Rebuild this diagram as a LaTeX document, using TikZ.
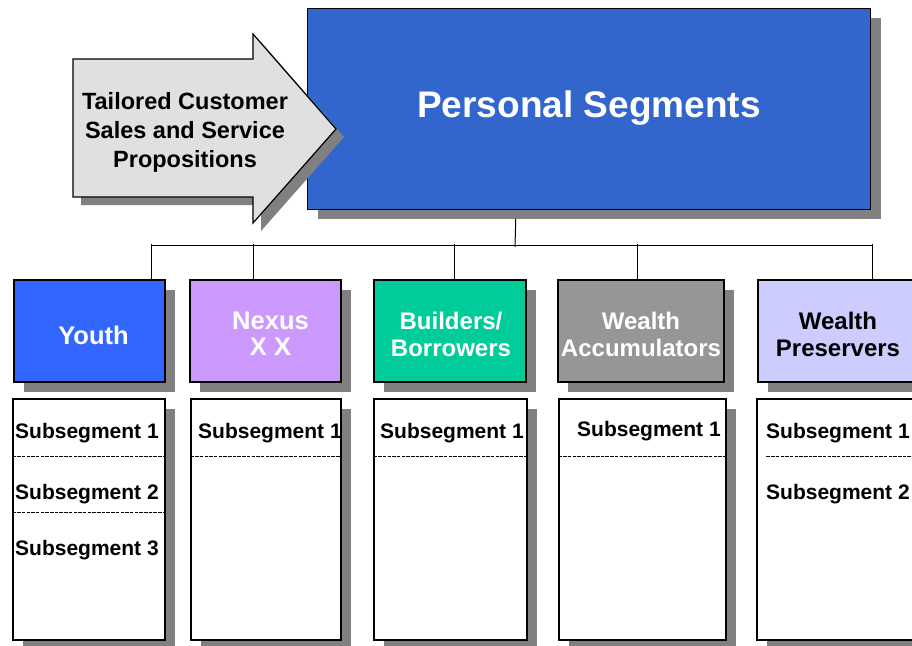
\documentclass[tikz,border=0pt]{standalone}
\usepackage{fontspec}
\setmainfont{Liberation Sans}
\usetikzlibrary{shadows}
\pgfdeclarelayer{background}
\pgfsetlayers{background,main}
\definecolor{psblue}{HTML}{3366CC}
\definecolor{youthblue}{HTML}{3366FF}
\definecolor{nexuslilac}{HTML}{CC99FF}
\definecolor{buildgreen}{HTML}{00CC99}
\definecolor{accgray}{HTML}{969696}
\definecolor{preslav}{HTML}{CCCCFF}
\definecolor{arrowgray}{HTML}{E0E0E0}
\definecolor{shadowgray}{HTML}{808080}
\tikzset{
  shad/.style={drop shadow={shadow xshift=10pt, shadow yshift=-10pt, fill=shadowgray, opacity=1}},
  segbox/.style={draw=black, line width=1.2pt, shad, inner sep=0pt, minimum height=102pt},
  segtxt/.style={inner sep=0pt, align=center, font=\bfseries\fontsize{24}{27}\selectfont, text=white},
  subbox/.style={draw=black, line width=1.2pt, fill=white, shad, inner sep=0pt, minimum height=241pt},
  subtxt/.style={anchor=base west, inner sep=0pt, font=\bfseries\fontsize{21}{25}\selectfont},
  conn/.style={draw=black, line width=1pt},
  divider/.style={draw=black, line width=1.4pt, dash pattern=on 3.5pt off 1.2pt},
}
\begin{document}
\begin{tikzpicture}[x=1pt,y=-1pt]
\useasboundingbox (0,0) rectangle (912,645);

% main box
\node[draw=black, line width=1pt, fill=psblue, shad, inner sep=0pt,
      minimum width=563pt, minimum height=201pt, text=white,
      font=\bfseries\fontsize{37}{44}\selectfont] (ps) at (589,108.5) {Personal Segments};

% block arrow
\fill[shadowgray] (81,67) -- (261,67) -- (261,42) -- (344,137) -- (261,231) -- (261,205) -- (81,205) -- cycle;
\draw[fill=arrowgray, line width=1.2pt, line join=miter] (73,59) -- (253,59) -- (253,34) -- (336,129) -- (253,223) -- (253,197) -- (73,197) -- cycle;
\node[align=center, font=\bfseries\fontsize{23.5}{29}\selectfont, inner sep=0pt] (arrowtxt) at (185,132)
  {Tailored Customer\\Sales and Service\\Propositions};

% segment boxes
\node[segbox, fill=youthblue, minimum width=151pt] (youth) at (89.5,331) {};
\node[segbox, fill=nexuslilac, minimum width=151pt] (nexus) at (265.5,331) {};
\node[segbox, fill=buildgreen, minimum width=152pt] (build) at (450,331) {};
\node[segbox, fill=accgray, minimum width=166pt] (acc) at (641,331) {};
\node[segbox, fill=preslav, minimum width=160pt] (pres) at (838,331) {};

\node[segtxt, font=\bfseries\fontsize{25.5}{27}\selectfont] (youthtxt) at (93.5,335) {Youth};
\node[segtxt, font=\bfseries\fontsize{25.5}{26}\selectfont] (nexustxt) at (270.5,334) {Nexus\\X X};
\node[segtxt] (buildtxt) at (451,334) {Builders/\\Borrowers};
\node[segtxt] (acctxt) at (641,334) {Wealth\\Accumulators};
\node[segtxt, text=black] (prestxt) at (838,334) {Wealth\\Preservers};

% subsegment boxes
\node[subbox, minimum width=152pt] (s1) at (89,519.5) {};
\node[subbox, minimum width=150pt] (s2) at (266,519.5) {};
\node[subbox, minimum width=153pt] (s3) at (450.5,519.5) {};
\node[subbox, minimum width=167pt] (s4) at (642.5,519.5) {};
\node[subbox, minimum width=161pt] (s5) at (837.5,519.5) {};

% dividers
\draw[divider] ([yshift=-58pt]s1.north west) -- ([yshift=-58pt]s1.north east);
\draw[divider] ([yshift=-114pt]s1.north west) -- ([yshift=-114pt]s1.north east);
\draw[divider] ([yshift=-58pt]s2.north west) -- ([yshift=-58pt]s2.north east);
\draw[divider] ([yshift=-58pt]s3.north west) -- ([yshift=-58pt]s3.north east);
\draw[divider] ([yshift=-58pt]s4.north west) -- ([yshift=-58pt]s4.north east);
\draw[divider] ([xshift=10pt,yshift=-58pt]s5.north west) -- ([yshift=-58pt]s5.north east);

% subsegment texts
\node[subtxt] (t11) at (15,438.5) {Subsegment 1};
\node[subtxt] (t12) at (15,499.5) {Subsegment 2};
\node[subtxt] (t13) at (15,555.5) {Subsegment 3};
\node[subtxt] (t21) at (198,438.5) {Subsegment 1};
\node[subtxt] (t31) at (380,438.5) {Subsegment 1};
\node[subtxt] (t41) at (577,436) {Subsegment 1};
\node[subtxt] (t51) at (766,438.5) {Subsegment 1};
\node[subtxt] (t52) at (766,499.5) {Subsegment 2};

% connectors
\coordinate (busL) at (152,245);
\coordinate (busR) at (873,245);
\coordinate (hub) at (515,247);
\begin{pgfonlayer}{background}
\fill[white] (0,0) rectangle (912,645);
\draw[conn] ([xshift=209pt]ps.south west) -- (hub);
\draw[conn] (busL) -- (busR);
\draw[conn] ([xshift=138pt]youth.north west) -- ++(0,-35);
\draw[conn] ([xshift=64pt]nexus.north west) -- ++(0,-35);
\draw[conn] ([xshift=81pt]build.north west) -- ++(0,-35);
\draw[conn] ([xshift=80pt]acc.north west) -- ++(0,-35);
\draw[conn] ([xshift=115pt]pres.north west) -- ++(0,-35);
\end{pgfonlayer}
\end{tikzpicture}
\end{document}
